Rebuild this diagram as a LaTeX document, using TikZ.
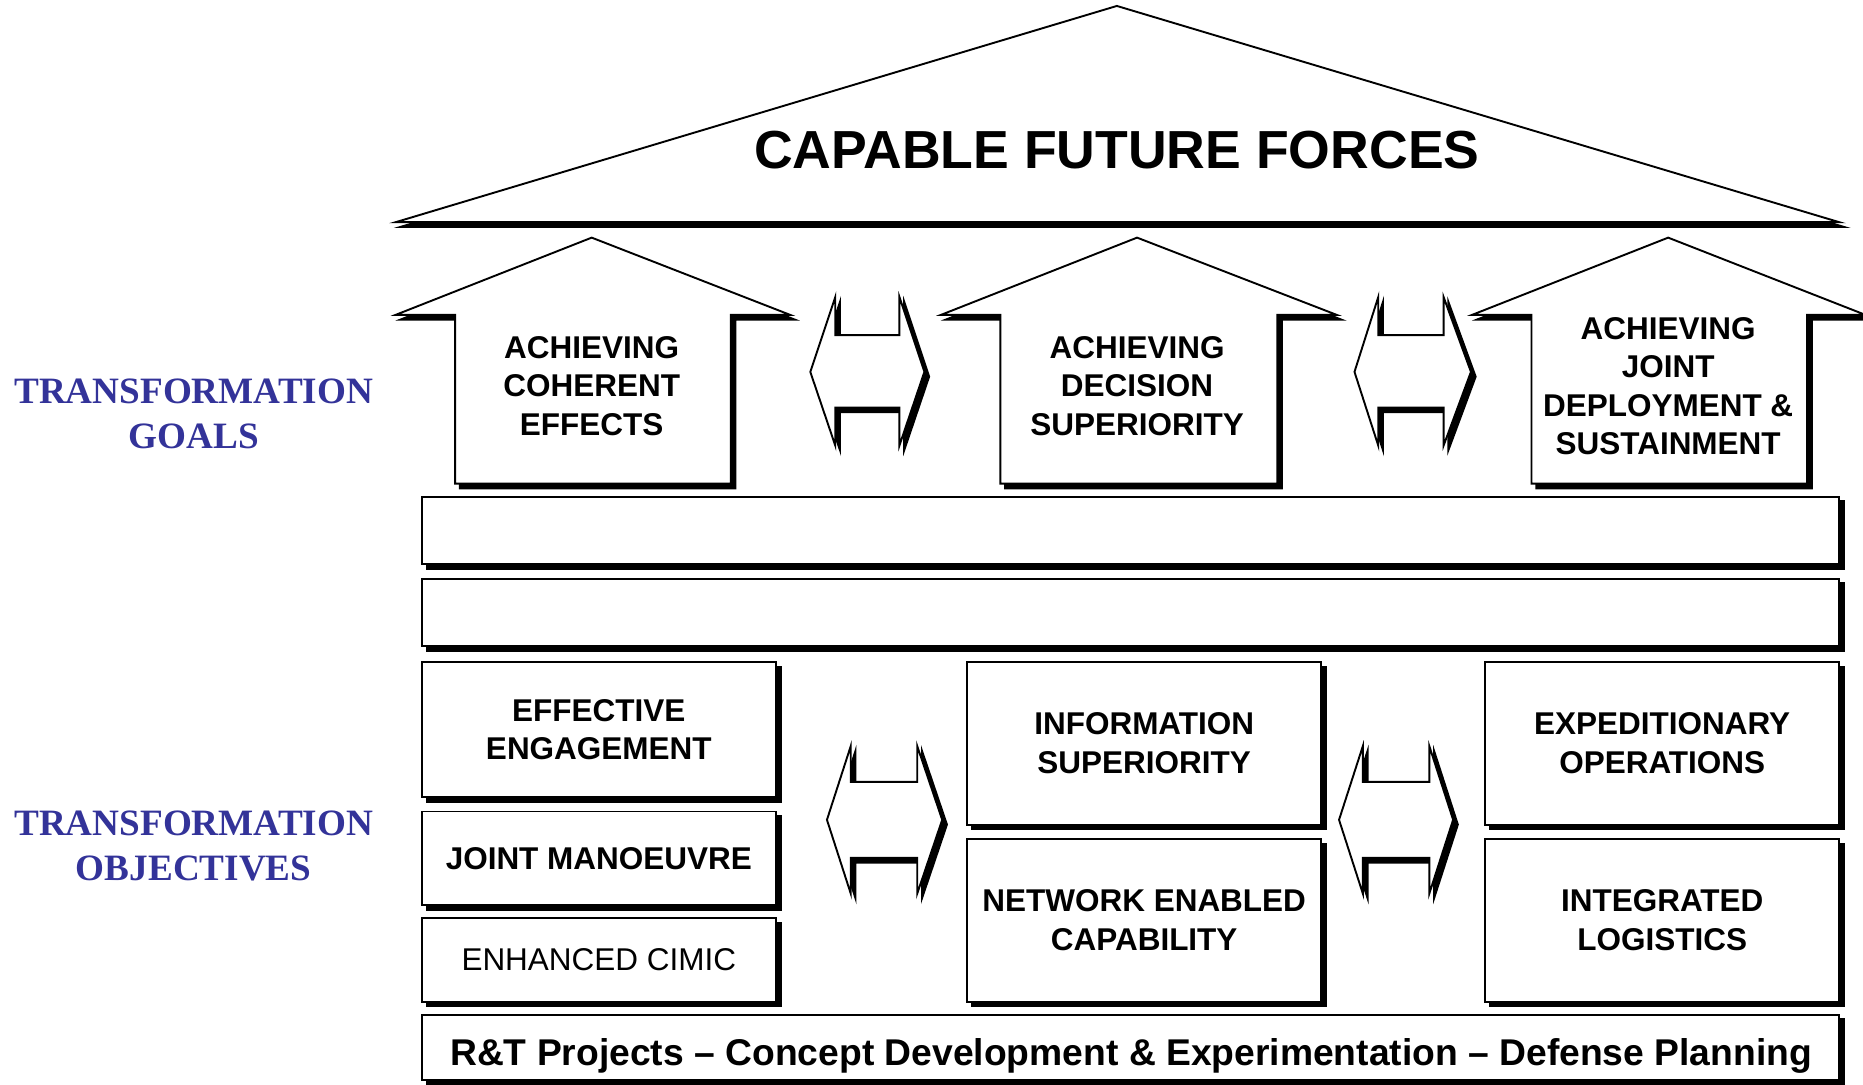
\documentclass[tikz,border=0pt]{standalone}
\usepackage{fontspec}
\setmainfont{Liberation Sans}
\newfontfamily\serifb{Liberation Serif}
\definecolor{tblue}{HTML}{333399}
\newcommand\dblarrow[9]{% xL x1 x2 xR yT yST ySB yB yM
  \draw[shp] (#2,#5) -- (#2,#6) -- (#3,#6) -- (#3,#5) -- (#4,#9) -- (#3,#8) -- (#3,#7) -- (#2,#7) -- (#2,#8) -- (#1,#9) -- cycle;}
\begin{document}
\begin{tikzpicture}[x=1pt,y=-1pt,
  shad/.style={preaction={fill=black,draw=black,line width=1.6pt,transform canvas={xshift=4pt,yshift=-4pt}}},
  shp/.style={draw=black,fill=white,line width=1.6pt,line join=miter,shad},
  box/.style={shp,rectangle,inner sep=0pt,align=center,font=\fontsize{26.5}{32.5}\selectfont\bfseries},
  gtxt/.style={align=center,inner sep=0pt,font=\fontsize{26.5}{32.5}\selectfont\bfseries},
  lbl/.style={align=center,inner sep=0pt,text=tblue,font=\serifb\fontsize{31.3}{38}\selectfont\bfseries}]
\useasboundingbox (0,0) rectangle (1568,913);
% roof
\draw[shp] (940,5) -- (1548,187) -- (333,187) -- cycle;
\node[inner sep=0pt,font=\fontsize{45.1}{50}\selectfont\bfseries] (cff) at (940,126) {CAPABLE FUTURE FORCES};
% goal arrows
\draw[shp] (498,200) -- (665,265) -- (615,265) -- (615,407) -- (383,407) -- (383,265) -- (333,265) -- cycle;
\draw[shp] (957,200) -- (1125,265) -- (1075,265) -- (1075,407) -- (842,407) -- (842,265) -- (792,265) -- cycle;
\draw[shp] (1404,200) -- (1570,265) -- (1521,265) -- (1521,407) -- (1289,407) -- (1289,265) -- (1239,265) -- cycle;
\node[gtxt] (g1) at (498,325) {ACHIEVING\\COHERENT\\EFFECTS};
\node[gtxt] (g2) at (957,325) {ACHIEVING\\DECISION\\SUPERIORITY};
\node[gtxt] (g3) at (1404,325) {ACHIEVING\\JOINT\\DEPLOYMENT \&\\SUSTAINMENT};
\dblarrow{682}{703}{757}{778}{250}{282}{343}{375}{313}
\dblarrow{1140}{1160}{1215}{1238}{250}{282}{343}{375}{313}
% bars
\node[box,minimum width=1193,minimum height=57] (bar1) at (951.5,446.5) {};
\node[box,minimum width=1193,minimum height=57] (bar2) at (951.5,515.5) {};
% objectives
\node[box,minimum width=298,minimum height=114] (ee) at (504,614) {EFFECTIVE\\ENGAGEMENT};
\node[box,minimum width=298,minimum height=79] (jm) at (504,722.5) {JOINT MANOEUVRE};
\node[box,minimum width=298,minimum height=70,font=\fontsize{26.5}{32.5}\selectfont] (ec) at (504,808) {ENHANCED CIMIC};
\node[box,minimum width=298,minimum height=137] (is) at (963,625.5) {INFORMATION\\SUPERIORITY};
\node[box,minimum width=298,minimum height=137] (ne) at (963,774.5) {NETWORK ENABLED\\CAPABILITY};
\node[box,minimum width=298,minimum height=137] (eo) at (1399,625.5) {EXPEDITIONARY\\OPERATIONS};
\node[box,minimum width=298,minimum height=137] (il) at (1399,774.5) {INTEGRATED\\LOGISTICS};
\dblarrow{696}{716}{772}{793}{628}{658}{722}{752}{690}
\dblarrow{1127}{1147}{1203}{1223}{628}{658}{722}{752}{690}
% bottom bar
\node[box,minimum width=1193,minimum height=55] (rt) at (951.5,881.5) {};
\node[anchor=base,inner sep=0pt,font=\fontsize{31.35}{36}\selectfont\bfseries] (rtt) at (952,896.5) {R\&T Projects -- Concept Development \& Experimentation -- Defense Planning};
% side labels
\node[lbl] (tg) at (163,348) {TRANSFORMATION\\GOALS};
\node[lbl] (to) at (163,712) {TRANSFORMATION\\OBJECTIVES};
\end{tikzpicture}
\end{document}
